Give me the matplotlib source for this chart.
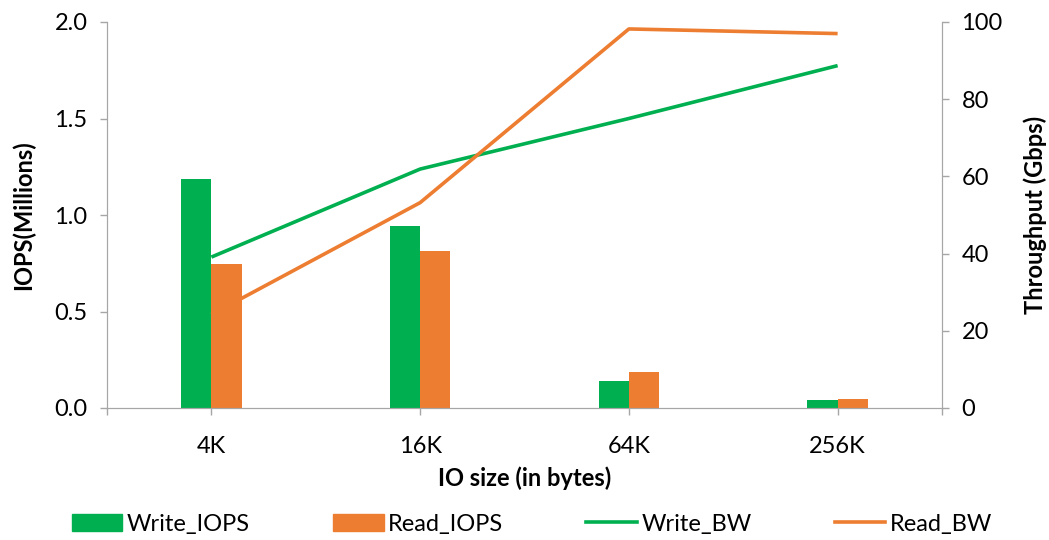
import numpy as np
import matplotlib.pyplot as plt
from matplotlib.patches import Patch
from matplotlib.lines import Line2D

plt.rcParams['font.family'] = ['Lato', 'DejaVu Sans']

sizes = ['4K', '16K', '64K', '256K']
write_iops = [1.187, 0.941, 0.141, 0.040]   # millions
read_iops = [0.746, 0.812, 0.187, 0.045]
write_bw = [39.1, 61.9, 75.0, 88.7]         # Gbps
read_bw = [24.2, 53.2, 98.2, 97.0]

green = '#00B050'
orange = '#ED7D31'
axis_grey = '#A6A6A6'

fig = plt.figure(figsize=(10.49, 5.40), dpi=100)
ax = fig.add_axes([107 / 1049, 132 / 540, 835 / 1049, 386 / 540])
ax2 = ax.twinx()

x = np.arange(len(sizes))
w = 0.145
ax.bar(x - w / 2, write_iops, w, color=green, zorder=2)
ax.bar(x + w / 2, read_iops, w, color=orange, zorder=2)

ax2.plot(x, write_bw, color=green, lw=2.6, solid_capstyle='butt')
ax2.plot(x, read_bw, color=orange, lw=2.6, solid_capstyle='butt')

ax.set_xlim(-0.5, 3.5)
ax.set_ylim(0, 2.0)
ax2.set_ylim(0, 100)
ax.set_yticks(np.arange(0, 2.01, 0.5))
ax.set_yticklabels([f'{v:.1f}' for v in np.arange(0, 2.01, 0.5)])
ax2.set_yticks(range(0, 101, 20))
ax.set_xticks(x)
ax.set_xticklabels(sizes)
ax.set_xticks([-0.5, 3.5], minor=True)

for a in (ax, ax2):
    for s in a.spines.values():
        s.set_color(axis_grey)
    a.spines['top'].set_visible(False)
    a.tick_params(which='both', color=axis_grey, length=5, width=1,
                  labelsize=17, pad=6)
ax.tick_params(axis='x', pad=15)
ax2.tick_params(axis='y', pad=9)
ax.tick_params(axis='y', pad=9)

ax.set_ylabel('IOPS(Millions)', fontsize=17, fontweight='bold', labelpad=14)
ax2.set_ylabel('Throughput (Gbps)', fontsize=17, fontweight='bold', labelpad=15)
ax.set_xlabel('IO size (in bytes)', fontsize=17, fontweight='bold', labelpad=7)

handles = [Patch(color=green), Patch(color=orange),
           Line2D([], [], color=green, lw=2.6),
           Line2D([], [], color=orange, lw=2.6)]
labels = ['Write_IOPS', 'Read_IOPS', 'Write_BW', 'Read_BW']
fig.legend(handles, labels, loc='center', ncol=4, frameon=False,
           bbox_to_anchor=(532 / 1049, 1 - 524 / 540), fontsize=17,
           handlelength=2.15, handleheight=0.75, handletextpad=0.2,
           columnspacing=3.5)

fig.savefig('out.png', dpi=100)
